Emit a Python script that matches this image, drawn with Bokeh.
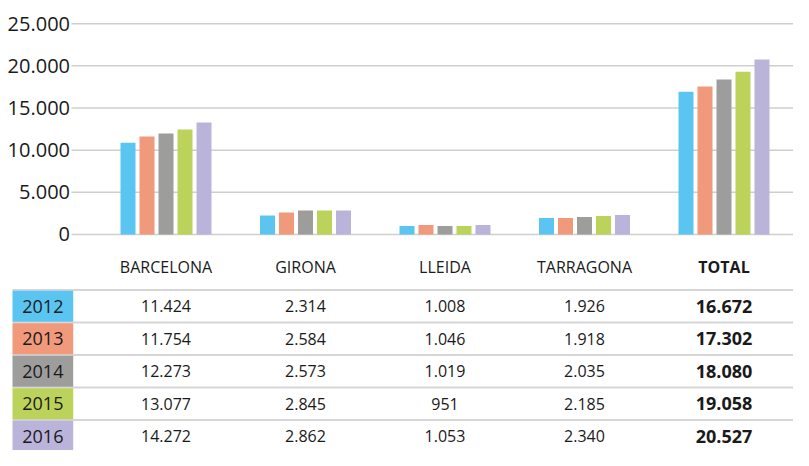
from bokeh.plotting import figure
from bokeh.models import Range1d, ColumnDataSource
from bokeh.core.properties import value
from bokeh.embed import file_html
from bokeh.resources import INLINE

# ---- data ----
categories = ["BARCELONA", "GIRONA", "LLEIDA", "TARRAGONA", "TOTAL"]
years = ["2012", "2013", "2014", "2015", "2016"]
colors = ["#5BC5F1", "#F1997B", "#9D9D9C", "#BCD35B", "#BBB4DA"]

# bar heights as drawn in the chart (per year, across categories)
bars_2012 = [10870, 2250, 1000, 1950, 16940]
bars_2013 = [11610, 2600, 1120, 1950, 17540]
bars_2014 = [11970, 2840, 1000, 2070, 18370]
bars_2015 = [12440, 2840, 1000, 2190, 19310]
bars_2016 = [13270, 2840, 1120, 2300, 20740]
bar_series = [bars_2012, bars_2013, bars_2014, bars_2015, bars_2016]

# table values (as printed)
table_2012 = ["11.424", "2.314", "1.008", "1.926", "16.672"]
table_2013 = ["11.754", "2.584", "1.046", "1.918", "17.302"]
table_2014 = ["12.273", "2.573", "1.019", "2.035", "18.080"]
table_2015 = ["13.077", "2.845", "951", "2.185", "19.058"]
table_2016 = ["14.272", "2.862", "1.053", "2.340", "20.527"]
table_rows = [table_2012, table_2013, table_2014, table_2015, table_2016]

y_ticks = [0, 5000, 10000, 15000, 20000, 25000]
y_tick_labels = ["0", "5.000", "10.000", "15.000", "20.000", "25.000"]

FONT = "Open Sans"
TXT = "#1a1a1a"

W, H = 793, 450
X0, X1 = -1.1864, 4.4982

p = figure(width=W, height=H, output_backend="svg", toolbar_location=None,
           x_range=Range1d(X0, X1), y_range=Range1d(-25617, 27751),
           x_axis_location=None, y_axis_location=None,
           min_border_left=0, min_border_right=0, min_border_top=0, min_border_bottom=0)
p.extra_y_ranges = {"table": Range1d(4.438, -9.408)}
p.outline_line_color = None
p.xgrid.grid_line_color = None
p.ygrid.grid_line_color = None
p.background_fill_color = "white"
p.border_fill_color = "white"

# ---- chart: gridlines, tick labels, bars ----
grid_left = -0.6774
p.segment(x0=[grid_left] * len(y_ticks), x1=[X1 + 0.1] * len(y_ticks),
          y0=y_ticks, y1=y_ticks, line_color="#cfcfcf", line_width=1.5)
p.text(x=[-0.6882] * len(y_ticks), y=y_ticks, text=y_tick_labels,
       text_font=value(FONT), text_font_size="20px", text_color=TXT,
       text_align="right", text_baseline="middle")

step = 0.1362
bw = 0.1075
for k, vals in enumerate(bar_series):
    xs = [i + (k - 2) * step for i in range(len(categories))]
    src = ColumnDataSource(dict(x=xs, top=vals))
    p.vbar(x="x", top="top", bottom=0, width=bw, source=src,
           fill_color=colors[k], line_color=None)

# ---- table ----
p.segment(x0=-1.1004, x1=X1 + 0.1, y0=[r - 0.5 for r in range(5)],
          y1=[r - 0.5 for r in range(5)], line_color="#d6d6d6", line_width=2,
          y_range_name="table")

label_y = -1.223
p.text(x=list(range(4)), y=[label_y] * 4, text=categories[:4],
       text_font=value(FONT), text_font_size="16px", text_color=TXT,
       text_align="center", text_baseline="middle", y_range_name="table")
p.text(x=[4], y=[label_y], text=[categories[4]], text_font=value(FONT),
       text_font_size="16px", text_font_style="bold", text_color=TXT,
       text_align="center", text_baseline="middle", y_range_name="table")

sw = ColumnDataSource(dict(x=[-0.8828] * 5, y=list(range(5)), c=colors, yr=years))
p.rect(x="x", y="y", width=0.4351, height=0.955, fill_color="c", line_color=None,
       source=sw, y_range_name="table")
p.text(x="x", y="y", text="yr", source=sw, text_font=value(FONT), text_font_size="18px",
       text_color=TXT, text_align="center", text_baseline="middle", y_range_name="table")

for r, row in enumerate(table_rows):
    p.text(x=list(range(4)), y=[r] * 4, text=row[:4], text_font=value(FONT),
           text_font_size="16px", text_color=TXT, text_align="center",
           text_baseline="middle", y_range_name="table")
    p.text(x=[4], y=[r], text=[row[4]], text_font=value(FONT),
           text_font_size="18px", text_font_style="bold", text_color=TXT,
           text_align="center", text_baseline="middle", y_range_name="table")

open("out.html", "w").write(file_html(p, INLINE))
